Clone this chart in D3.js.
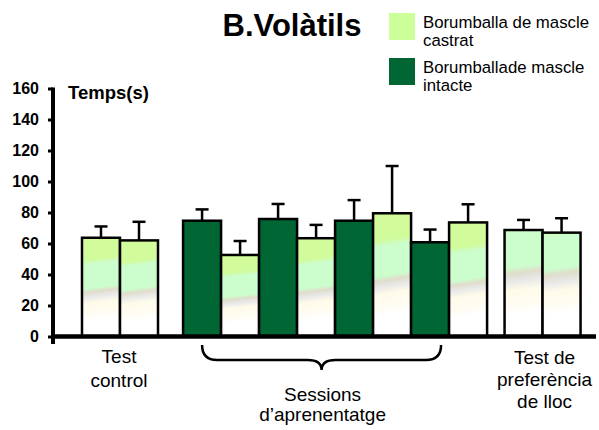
<!DOCTYPE html>
<html><head><meta charset="utf-8">
<script src="https://cdn.jsdelivr.net/npm/d3@7"></script>
<style>body{margin:0;background:#fff}svg{display:block}text{font-family:"Liberation Sans",Arial,sans-serif}</style>
</head><body>
<svg id="c" width="599" height="430"></svg>
<script>
// ---- data ----
const groupNames = ["Test control", "Sessions d’aprenentatge", "Test de preferència de lloc"];
const groupLabelLines = [["Test", "control"], ["Sessions", "d’aprenentatge"], ["Test de", "preferència", "de lloc"]];
const seriesNames = ["Borumballa de mascle castrat", "Borumballade mascle intacte"];
const barGroup = [0, 0, 1, 1, 1, 1, 1, 1, 1, 1, 2, 2];
const barSeries = ["castrat", "castrat", "intacte", "castrat", "intacte", "castrat", "intacte", "castrat", "intacte", "castrat", "castrat", "castrat"];
const barMeans = [63.7, 62, 74.7, 52.6, 75.8, 63.4, 74.7, 79.5, 60.8, 73.6, 68.7, 67];
const barErrTops = [71, 74, 82, 61.6, 85.5, 72, 88, 110, 69, 85.3, 75.2, 76.3];
const yTicks = [0, 20, 40, 60, 80, 100, 120, 140, 160];
const title = "B.Volàtils";
const yLabel = "Temps(s)";

const svg = d3.select("#c");
const defs = svg.append("defs");
function grad(id, stops) {
  const g = defs.append("linearGradient").attr("id", id)
    .attr("x1", 0).attr("y1", 0).attr("x2", 0.05).attr("y2", 1);
  stops.forEach(s => g.append("stop").attr("offset", s[0]).attr("stop-color", s[1]));
}
grad("gA", [[0, "#d2fb9c"], [0.23, "#d2fb9c"], [0.28, "#ccfdcc"], [0.52, "#ccfdcc"], [0.56, "#e0ddcc"], [0.61, "#e9e9e9"], [0.67, "#fffbea"], [0.78, "#fffcf2"], [0.84, "#ffffff"], [1, "#ffffff"]]);
grad("gB", [[0, "#d2fcb8"], [0.05, "#ccfdcc"], [0.36, "#ccfdcc"], [0.42, "#e0ddcc"], [0.5, "#e9e9e9"], [0.58, "#fffbea"], [0.72, "#fffcf2"], [0.8, "#ffffff"], [1, "#ffffff"]]);
const darkGreen = "#006633", lightGreen = "#ccff99";

// ---- scales ----
const y = d3.scaleLinear().domain([0, 160]).range([336.5, 88.5]);
const gapBefore = [0, 0.66, 0.46]; // layout gaps (in bar units) before each group
const slots = [];
let u = 0;
barGroup.forEach((g, i) => {
  if (i === 0 || barGroup[i - 1] !== g) u += gapBefore[g];
  slots.push(u); u += 1;
});
const x = d3.scaleLinear().domain([0, 1]).range([82, 82 + 38]);
const bw = x(1) - x(0);

// ---- title ----
svg.append("text").attr("x", 292).attr("y", 36).attr("text-anchor", "middle")
  .attr("font-size", 31).attr("font-weight", "bold").text(title);

// ---- legend ----
const legY = [13, 58];
const legLines = [["Borumballa de mascle", "castrat"], ["Borumballade mascle", "intacte"]];
[lightGreen, darkGreen].forEach((c, i) => {
  svg.append("rect").attr("x", 389).attr("y", legY[i]).attr("width", 26).attr("height", 27).attr("fill", c);
  const t = svg.append("text").attr("x", 423).attr("y", legY[i] + 14.5).attr("font-size", 16.8);
  legLines[i].forEach((l, j) => t.append("tspan").attr("x", 423).attr("dy", j ? 18.5 : 0).text(l));
});

// ---- axis ----
const ax = svg.append("g").attr("transform", "translate(53,0)")
  .call(d3.axisLeft(y).tickValues(yTicks).tickSize(5).tickPadding(9));
ax.select(".domain").remove();
ax.selectAll(".tick line").attr("stroke", "#000").attr("stroke-width", 3);
ax.selectAll(".tick text").attr("font-size", 16).attr("font-weight", "bold").attr("fill", "#000")
  .attr("font-family", "Liberation Sans, Arial, sans-serif");
svg.append("line").attr("x1", 53).attr("x2", 53).attr("y1", y(160) - 1).attr("y2", 344)
  .attr("stroke", "#000").attr("stroke-width", 4);

svg.append("text").attr("x", 68).attr("y", 99).attr("font-size", 18.5).attr("font-weight", "bold").text(yLabel);

// ---- bars ----
const bars = barMeans.map((v, i) => ({ v, e: barErrTops[i], s: barSeries[i], g: barGroup[i], slot: slots[i] }));
// error bars
const eb = svg.append("g").attr("stroke", "#000").attr("stroke-width", 2.5);
bars.forEach(d => {
  const cx = x(d.slot + 0.5);
  eb.append("line").attr("x1", cx).attr("x2", cx).attr("y1", y(d.v)).attr("y2", y(d.e));
  eb.append("line").attr("x1", cx - 6.5).attr("x2", cx + 6.5).attr("y1", y(d.e)).attr("y2", y(d.e));
});
svg.append("g").selectAll("rect").data(bars).join("rect")
  .attr("x", d => x(d.slot)).attr("width", bw)
  .attr("y", d => y(d.v)).attr("height", d => y(0) - y(d.v))
  .attr("fill", d => d.s === "intacte" ? darkGreen : (d.g === 2 ? "url(#gB)" : "url(#gA)"))
  .attr("stroke", "#000").attr("stroke-width", 2.5);

// baseline
svg.append("line").attr("x1", 51).attr("x2", 596).attr("y1", y(0)).attr("y2", y(0))
  .attr("stroke", "#000").attr("stroke-width", 4.5);

// ---- group labels ----
function groupExtent(g) {
  const s = bars.filter(d => d.g === g);
  return [x(s[0].slot), x(s[s.length - 1].slot + 1)];
}
// group 0
let [a0, b0] = groupExtent(0);
let t0 = svg.append("text").attr("text-anchor", "middle").attr("font-size", 19).attr("y", 363);
groupLabelLines[0].forEach((l, j) => t0.append("tspan").attr("x", (a0 + b0) / 2 - 1).attr("dy", j ? 23.5 : 0).text(l));
// group 1 with brace
let [a1, b1] = groupExtent(1);
const bl = a1 + bw / 2, br = b1 - 46, bc = (bl + br) / 2, by = 345, bf = 360, bt = 370;
svg.append("path").attr("fill", "none").attr("stroke", "#000").attr("stroke-width", 2.5)
  .attr("d", `M${bl},${by} Q${bl},${bf} ${bl + 15},${bf} L${bc - 14},${bf} Q${bc},${bf} ${bc},${bt} Q${bc},${bf} ${bc + 14},${bf} L${br - 15},${bf} Q${br},${bf} ${br},${by}`);
let t1 = svg.append("text").attr("text-anchor", "middle").attr("font-size", 19).attr("y", 401);
groupLabelLines[1].forEach((l, j) => t1.append("tspan").attr("x", bc + 1).attr("dy", j ? 20 : 0).text(l));
// group 2
let [a2, b2] = groupExtent(2);
let t2 = svg.append("text").attr("text-anchor", "middle").attr("font-size", 19).attr("y", 364);
groupLabelLines[2].forEach((l, j) => t2.append("tspan").attr("x", (a2 + b2) / 2 + 2).attr("dy", j ? 22 : 0).text(l));
</script>
</body></html>
